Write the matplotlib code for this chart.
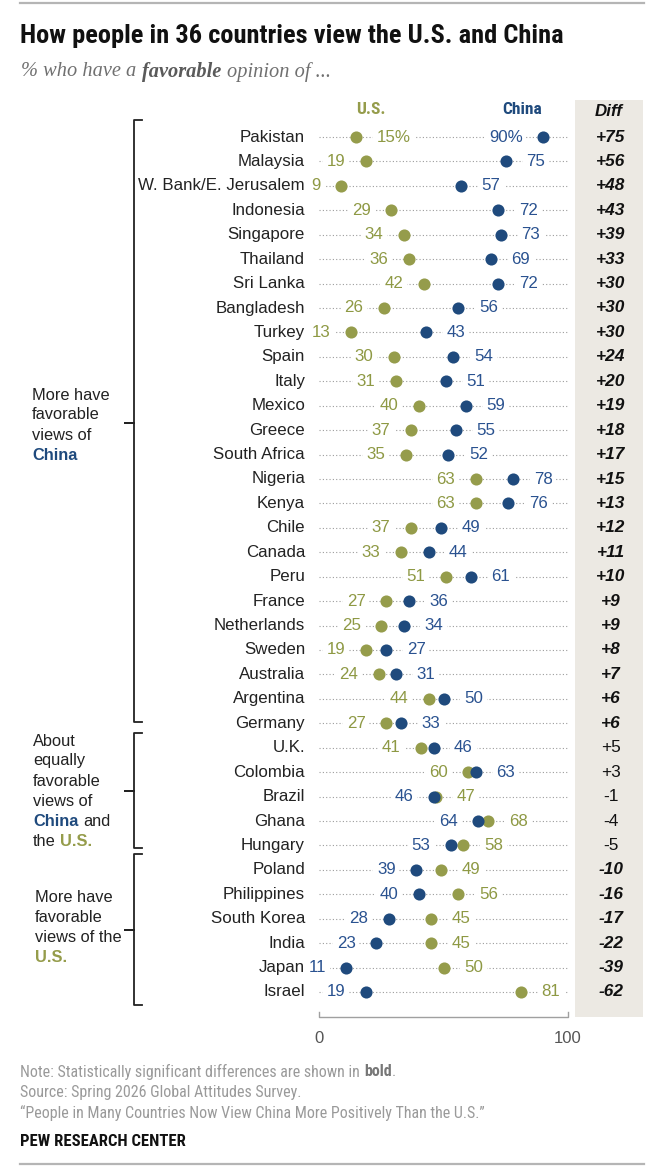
import matplotlib
matplotlib.use("Agg")
import matplotlib.pyplot as plt
from matplotlib import font_manager
from matplotlib.lines import Line2D
from matplotlib.patches import Rectangle
import matplotlib.transforms as mtrans

# ---------------- data ----------------
countries = ["Pakistan", "Malaysia", "W. Bank/E. Jerusalem", "Indonesia", "Singapore",
             "Thailand", "Sri Lanka", "Bangladesh", "Turkey", "Spain", "Italy", "Mexico",
             "Greece", "South Africa", "Nigeria", "Kenya", "Chile", "Canada", "Peru",
             "France", "Netherlands", "Sweden", "Australia", "Argentina", "Germany",
             "U.K.", "Colombia", "Brazil", "Ghana", "Hungary", "Poland", "Philippines",
             "South Korea", "India", "Japan", "Israel"]
us_fav = [15, 19, 9, 29, 34, 36, 42, 26, 13, 30, 31, 40, 37, 35, 63, 63, 37, 33, 51,
          27, 25, 19, 24, 44, 27, 41, 60, 47, 68, 58, 49, 56, 45, 45, 50, 81]
china_fav = [90, 75, 57, 72, 73, 69, 72, 56, 43, 54, 51, 59, 55, 52, 78, 76, 49, 44, 61,
             36, 34, 27, 31, 50, 33, 46, 63, 46, 64, 53, 39, 40, 28, 23, 11, 19]
significant = [True] * 25 + [False] * 5 + [True] * 6

title = "How people in 36 countries view the U.S. and China"
axis_ticks = [0, 100]
notes = ["Source: Spring 2026 Global Attitudes Survey.",
         "\u201cPeople in Many Countries Now View China More Positively Than the U.S.\u201d"]

# ---------------- style ----------------
OLIVE = "#959C4B"
OLIVE_T = "#8E9944"
NAVY = "#1F4A7D"
NAVY_T = "#2A5290"
DIFF_BG = "#ECE9E3"

W, H = 654, 1176
fig = plt.figure(figsize=(W / 100, H / 100), dpi=100)
fig.patch.set_facecolor("white")
renderer = fig.canvas.get_renderer()

avail = {f.name for f in font_manager.fontManager.ttflist}


def pick(cands):
    for c in cands:
        if c in avail:
            return c
    return "DejaVu Sans"


SANS = pick(["Liberation Sans", "Arial", "DejaVu Sans"])
NARROW = pick(["Liberation Sans Narrow", "Roboto Condensed", "Open Sans Condensed", "Liberation Sans"])
SERIF = pick(["Liberation Serif", "DejaVu Serif"])


def fx(px):
    return px / W


def fy(py):
    return 1 - py / H


def pt2px(pt):
    return pt * 100 / 72


def draw_run(px, py, parts, fs, family, color, measure_only=False):
    """parts: list of (text, props, space_after)"""
    x = px
    made = []
    for s, props, sp in parts:
        kw = dict(fontsize=fs, family=family, color=color, va="center", ha="left")
        kw.update(props)
        t = fig.text(fx(x), fy(py), s, **kw)
        bb = t.get_window_extent(renderer)
        x += bb.width + sp * 0.27 * pt2px(fs)
        made.append(t)
    if measure_only:
        for t in made:
            t.remove()
    return x - px


def fit_run(px, py, parts, target_w, family, color, fs0=12, fs_max=None):
    w = draw_run(px, py, parts, fs0, family, color, measure_only=True)
    fs = fs0 * target_w / w
    if fs_max is not None:
        fs = min(fs, fs_max)
    draw_run(px, py, parts, fs, family, color)
    return fs


# ---------------- rules ----------------
fig.add_artist(Line2D([fx(20), fx(644)], [fy(3), fy(3)], transform=fig.transFigure,
                      color="#b5b5b5", lw=1.6))
fig.add_artist(Line2D([fx(20), fx(644)], [fy(1164), fy(1164)], transform=fig.transFigure,
                      color="#b5b5b5", lw=1.6))

# ---------------- title / subtitle ----------------
fit_run(20, 36, [(title, dict(weight="bold"), 0)], 582, NARROW, "#111111", fs0=17, fs_max=19)
fit_run(21, 72, [("% who have a", dict(style="italic"), 1),
                 ("favorable", dict(style="italic", weight="bold", color="#5a5a5a"), 1),
                 ("opinion of ...", dict(style="italic"), 0)],
        308, SERIF, "#707070", fs0=13, fs_max=15)

# ---------------- main axes ----------------
x0_px, x100_px = 319, 568
ax_top_px, ax_bot_px = 100, 1017
row0_px = 137
row_step = (992 - 137) / 35
ax = fig.add_axes([fx(x0_px), fy(ax_bot_px), (x100_px - x0_px) / W, (ax_bot_px - ax_top_px) / H])
ax.set_xlim(0, 100)
ax.set_ylim((ax_bot_px - row0_px) / row_step, (ax_top_px - row0_px) / row_step)
ax.axis("off")

rows = list(range(len(countries)))
px_per_unit = (x100_px - x0_px) / 100.0


def px2x(px):
    return (px - x0_px) / px_per_unit


# dotted guide lines
for i in rows:
    ax.plot([0, 100], [i, i], color="#9c9c9c", lw=0.8, ls=(0, (1, 2)), zorder=1,
            solid_capstyle="butt")

ax.scatter(us_fav, rows, s=76, color=OLIVE, zorder=3, linewidths=0)
ax.scatter(china_fav, rows, s=76, color=NAVY, zorder=4, linewidths=0)

LAB_FS = 12.2
off = 14.8  # points from dot centre to label edge
box = dict(boxstyle="square,pad=0.22", fc="white", ec="none")
for i, (c, u, ch) in enumerate(zip(countries, us_fav, china_fav)):
    ax.annotate(c, xy=(0, i), xytext=(-10, 0), textcoords="offset points",
                ha="right", va="center", fontsize=LAB_FS, family=SANS, color="#222222")
    if i == 0:
        us_txt, ch_txt = f"{u}%", f"{ch}%"
        us_side, ch_side = 1, -1  # labels placed inward on first row
    else:
        us_txt, ch_txt = str(u), str(ch)
        us_side, ch_side = (-1, 1) if u < ch else (1, -1)
    ax.annotate(us_txt, xy=(u, i), xytext=(us_side * off, 0), textcoords="offset points",
                ha="left" if us_side > 0 else "right", va="center", fontsize=LAB_FS,
                family=SANS, color=OLIVE_T, bbox=box, zorder=2)
    ax.annotate(ch_txt, xy=(ch, i), xytext=(ch_side * off, 0), textcoords="offset points",
                ha="left" if ch_side > 0 else "right", va="center", fontsize=LAB_FS,
                family=SANS, color=NAVY_T, bbox=box, zorder=2)

# column headers
ax.text(px2x(371), (110 - row0_px) / row_step, "U.S.", ha="center", va="center",
        fontsize=12.5, weight="bold", family=NARROW, color=OLIVE)
ax.text(px2x(522), (110 - row0_px) / row_step, "China", ha="center", va="center",
        fontsize=12.5, weight="bold", family=NARROW, color=NAVY)

# diff column
blend = mtrans.blended_transform_factory(ax.transData, ax.transAxes)
ax.add_patch(Rectangle((px2x(575), 0), px2x(643) - px2x(575), 1, transform=blend,
                       fc=DIFF_BG, ec="none", clip_on=False, zorder=0))
ax.text(px2x(609), (112 - row0_px) / row_step, "Diff", ha="center", va="center",
        fontsize=12.2, weight="bold", style="italic", family=SANS, color="#111111")
for i, (u, ch, sig) in enumerate(zip(us_fav, china_fav, significant)):
    d = ch - u
    ax.text(px2x(611), i, f"{d:+d}", ha="center", va="center", fontsize=12.4,
            weight="bold" if sig else "normal", style="italic" if sig else "normal",
            family=SANS, color="#111111")

# bottom axis
tick_h = 5 / (ax_bot_px - ax_top_px)
ax.plot([axis_ticks[0], axis_ticks[0], axis_ticks[-1], axis_ticks[-1]],
        [tick_h, 0, 0, tick_h], transform=blend, color="#a0a0a0", lw=1.0, clip_on=False)
for tv in axis_ticks:
    ax.annotate(str(tv), xy=(tv, 0), xycoords=blend, xytext=(0, -15.5),
                textcoords="offset points", ha="center", va="center", fontsize=12,
                family=SANS, color="#555555")

# ---------------- brackets ----------------
def brace(top, mid, bot, x=134):
    xs = [142, x, x, 125, x, x, 142]
    ys = [top, top, mid, mid, mid, bot, bot]
    fig.add_artist(Line2D([fx(v) for v in xs], [fy(v) for v in ys], transform=fig.transFigure,
                          color="#222222", lw=1.3, solid_joinstyle="round"))


brace(120, 423, 722)
brace(733, 791, 848)
brace(854, 930, 1005)

GFS = 11.8
BL = dict(weight="bold", color=NAVY)
BO = dict(weight="bold", color=OLIVE)
group_lines = [
    (32, [395, 415, 435, 455], [[("More have", {}, 0)], [("favorable", {}, 0)],
                                [("views of", {}, 0)], [("China", BL, 0)]]),
    (33, [741, 761, 781, 802, 822, 842], [[("About", {}, 0)], [("equally", {}, 0)],
                                          [("favorable", {}, 0)], [("views of", {}, 0)],
                                          [("China", BL, 1), ("and", {}, 0)],
                                          [("the", {}, 1), ("U.S.", BO, 0)]]),
    (35, [897, 917, 937, 958], [[("More have", {}, 0)], [("favorable", {}, 0)],
                                [("views of the", {}, 0)], [("U.S.", BO, 0)]]),
]
for gx, gys, glines in group_lines:
    for gy, parts in zip(gys, glines):
        draw_run(gx, gy, parts, GFS, SANS, "#222222")

# ---------------- notes ----------------
note_fs = fit_run(20, 1072, [("Note: Statistically significant differences are shown in", {}, 1),
                             ("bold", dict(weight="bold", color="#777777"), 0),
                             (".", {}, 0)],
                  396, NARROW, "#9a9a9a", fs0=11, fs_max=11.5)
for ny, line in zip([1093, 1113], notes):
    draw_run(20, ny, [(line, {}, 0)], note_fs, NARROW, "#9a9a9a")
fit_run(20, 1142, [("PEW RESEARCH CENTER", dict(weight="bold"), 0)], 170, NARROW, "#111111",
        fs0=11, fs_max=12)

fig.savefig("out.png", dpi=100, facecolor="white")
